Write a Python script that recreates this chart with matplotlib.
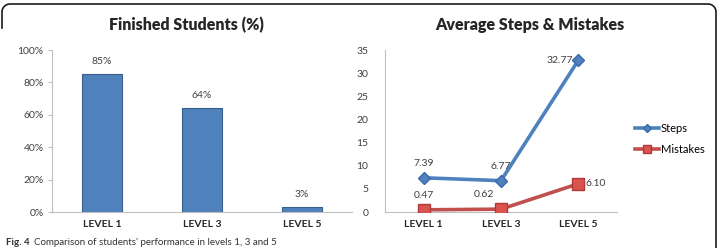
import matplotlib
matplotlib.use('Agg')
import matplotlib.pyplot as plt
from matplotlib.lines import Line2D
import numpy as np

# data
levels = ['LEVEL 1', 'LEVEL 3', 'LEVEL 5']
finished_pct = [85, 64, 3]
steps = [7.39, 6.77, 32.77]
mistakes = [0.47, 0.62, 6.10]
pct_ticks = [0, 20, 40, 60, 80, 100]
avg_ticks = [0, 5, 10, 15, 20, 25, 30, 35]

plt.rcParams['font.family'] = ['Lato', 'DejaVu Sans']

W, H = 721, 248
fig = plt.figure(figsize=(W / 100, H / 100), dpi=100)

blue = '#4F81BD'
red = '#C0504D'
axis_col = '#BFBFBF'
txt_col = '#404040'


def px_axes(x0, y0, x1, y1):
    # pixel box (top-left origin) -> figure axes
    return fig.add_axes([x0 / W, 1 - y1 / H, (x1 - x0) / W, (y1 - y0) / H])


def style_axes(ax):
    for s in ['top', 'right']:
        ax.spines[s].set_visible(False)
    ax.spines['left'].set_color(axis_col)
    ax.spines['bottom'].set_color(axis_col)
    ax.tick_params(axis='y', colors=axis_col, labelcolor=txt_col, labelsize=7.5, length=3, pad=3)
    ax.tick_params(axis='x', length=0, labelsize=7.5, pad=6)
    for lab in ax.get_xticklabels():
        lab.set_fontweight('bold')
        lab.set_color('#262626')


# left: finished students
ax1 = px_axes(52, 50, 352, 212)
x = np.arange(len(levels))
ax1.bar(x, finished_pct, width=0.4, color=blue, edgecolor='#385D8A', linewidth=0.8)
ax1.set_xlim(-0.5, 2.5)
ax1.set_ylim(0, 100)
ax1.set_yticks(pct_ticks)
ax1.set_yticklabels([f'{t}%' for t in pct_ticks])
ax1.set_xticks(x)
ax1.set_xticklabels(levels)
style_axes(ax1)
for xi, v in zip(x, finished_pct):
    ax1.annotate(f'{v}%', (xi, v), xytext=(0, 6), textcoords='offset points',
                 ha='center', va='bottom', fontsize=7.5, color=txt_col)
fig.text(186 / W, 1 - 25 / H, 'Finished Students (%)', ha='center', va='center',
         fontsize=11.5, fontweight='heavy', color='#262626')

# right: average steps & mistakes
ax2 = px_axes(385, 50, 617, 212)
ax2.plot(x, steps, color=blue, lw=2.6, marker='D', ms=6.5, mfc=blue, mec='#3A6AA8',
         label='Steps', zorder=3)
ax2.plot(x, mistakes, color=red, lw=2.6, marker='s', ms=9, mfc='#D9534F', mec='#B03A37',
         label='Mistakes', zorder=3)
ax2.set_xlim(-0.5, 2.5)
ax2.set_ylim(0, 35)
ax2.set_yticks(avg_ticks)
ax2.set_xticks(x)
ax2.set_xticklabels(levels)
style_axes(ax2)
ax2.tick_params(axis='y', length=0, pad=12)

step_off = [(0, 7, 'center'), (0, 7, 'center'), (-4, 0, 'right')]
for xi, v, (dx, dy, ha) in zip(x, steps, step_off):
    ax2.annotate(f'{v:.2f}', (xi, v), xytext=(dx, dy), textcoords='offset points',
                 ha=ha, va='bottom' if dy else 'center', fontsize=7.5, color=txt_col)
mis_off = [(0, 7, 'center'), (-5, 7, 'right'), (5, 0, 'left')]
for xi, v, (dx, dy, ha) in zip(x, mistakes, mis_off):
    ax2.annotate(f'{v:.2f}', (xi, v), xytext=(dx, dy), textcoords='offset points',
                 ha=ha, va='bottom' if dy else 'center', fontsize=7.5, color=txt_col)
ax2.legend(loc='center left', bbox_to_anchor=(625 / W, 1 - 139 / H),
           bbox_transform=fig.transFigure, frameon=False, fontsize=8,
           handlelength=2.2, handletextpad=0.1, labelspacing=0.9, markerscale=0.7)
fig.text(530 / W, 1 - 25 / H, 'Average Steps & Mistakes', ha='center', va='center',
         fontsize=11.5, fontweight='heavy', color='#262626')

# outer frame with rounded top corners
r = 8
t = np.linspace(0, np.pi / 2, 20)
fx = np.concatenate([[2], 2 + r - r * np.cos(t), [708 - r + 8], 716 - r + r * np.sin(t), [716]])
fy = np.concatenate([[28], 4 + r - r * np.sin(t), [4], 4 + r - r * np.cos(t), [248]])
fig.add_artist(Line2D(fx / W, 1 - fy / H, transform=fig.transFigure, color='#1a1a1a', lw=1.2))

# caption at the bottom
cap = fig.text(6 / W, 1 - 238 / H, 'Fig. 4', ha='left', va='top',
               fontsize=7, fontweight='bold', color='#333333')
fig.text(34 / W, 1 - 238 / H, "Comparison of students' performance in levels 1, 3 and 5",
         ha='left', va='top', fontsize=7, color='#333333')

fig.savefig('out.png', dpi=100, facecolor='white')
